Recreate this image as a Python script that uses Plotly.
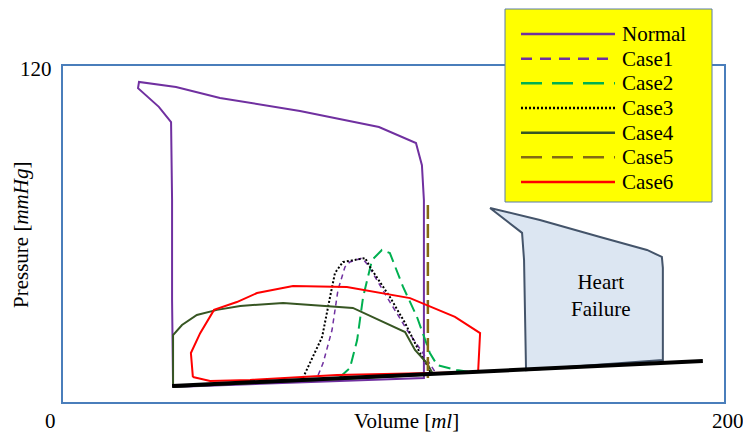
import plotly.graph_objects as go

# ---- data (volume [ml], pressure [mmHg]) ----
normal_v = [33.3, 33.0, 33.0, 32.7, 29.0, 22.7, 23.0, 34.2, 47.5, 71.7, 95.6, 106.8, 108.6, 109.2, 109.2, 71.7, 33.3]
normal_p = [5.7, 36.4, 72.1, 100.0, 105.4, 112.1, 114.3, 112.5, 108.6, 103.9, 98.2, 92.5, 84.6, 72.1, 8.6, 7.1, 5.4]

case1_v = [77.2, 78.7, 81.4, 83.2, 85.3, 86.8, 90.5, 92.3, 98.0, 104.1, 108.9, 112.6, 112.6, 77.2]
case1_p = [9.6, 13.9, 25.7, 40.0, 48.2, 50.0, 51.4, 48.9, 37.5, 25.7, 17.5, 10.7, 10.0, 8.2]

case2_v = [83.8, 86.8, 89.0, 90.8, 93.5, 96.5, 98.9, 102.9, 107.1, 111.0, 113.2, 119.2, 123.1, 83.8]
case2_p = [8.9, 12.1, 22.1, 37.5, 50.7, 54.3, 53.2, 41.1, 30.4, 17.5, 13.2, 11.4, 10.7, 8.2]

case3_v = [72.6, 74.7, 78.4, 80.8, 82.3, 84.7, 91.4, 92.9, 98.9, 103.5, 108.0, 111.0, 111.0, 72.6]
case3_p = [8.6, 13.9, 23.2, 37.5, 46.1, 50.0, 51.4, 48.2, 37.5, 28.2, 17.5, 11.4, 10.0, 7.9]

case4_v = [33.3, 33.3, 36.0, 40.5, 46.6, 53.6, 66.6, 78.7, 87.7, 103.5, 106.5, 110.1, 111.6, 109.5, 33.3]
case4_p = [5.4, 23.9, 27.5, 31.1, 32.9, 34.3, 35.4, 34.3, 33.6, 25.0, 18.6, 13.9, 10.7, 9.6, 5.4]

case5_v = [110.4, 110.4]
case5_p = [70.4, 8.6]

case6_v = [39.3, 38.7, 41.5, 45.7, 52.6, 58.7, 69.6, 85.9, 105.0, 118.6, 126.2, 125.6, 82.9, 56.6, 44.5, 39.3]
case6_p = [8.9, 17.5, 24.6, 32.9, 35.7, 38.9, 41.4, 41.1, 37.1, 30.4, 24.6, 10.7, 9.6, 7.9, 7.5, 8.9]

edpvr_v = [33.0, 193.6]
edpvr_p = [5.7, 14.6]

hf_v = [129.2, 138.9, 139.5, 140.1, 181.5, 181.5, 181.2, 176.7, 162.5, 144.3, 129.2]
hf_p = [69.3, 60.4, 50.7, 11.4, 15.0, 47.9, 51.8, 54.3, 58.9, 65.0, 69.3]

series_names = ["Normal", "Case1", "Case2", "Case3", "Case4", "Case5", "Case6"]
x_tick_labels = ["0", "200"]
y_tick_labels = ["120"]

FONT = "Liberation Serif, Times New Roman, serif"
TXT = dict(family=FONT, size=21, color="#000000")

styles = [
    ("#7030A0", "solid", 2, "solid", 2.5),
    ("#7030A0", "5px,4px", 1.5, "11px,8px", 2.5),
    ("#00B050", "12px,6px", 2, "21px,10px", 2.5),
    ("#000000", "2px,2px", 2, "2px,2px", 2.5),
    ("#375623", "solid", 2, "solid", 2.5),
    ("#846A13", "14px,5px", 2.5, "21px,10px", 2.5),
    ("#FF0000", "solid", 2, "solid", 2.5),
]
series_data = [(normal_v, normal_p), (case1_v, case1_p), (case2_v, case2_p),
               (case3_v, case3_p), (case4_v, case4_p), (case5_v, case5_p),
               (case6_v, case6_p)]

fig = go.Figure()

fig.add_trace(go.Scatter(x=hf_v, y=hf_p, mode="lines", fill="toself",
                         fillcolor="#DCE6F2", line=dict(color="#44546A", width=2),
                         showlegend=False, hoverinfo="skip"))

for name, (xs, ys), (col, dash, w, _, _) in zip(series_names, series_data, styles):
    fig.add_trace(go.Scatter(x=xs, y=ys, mode="lines", name=name, showlegend=False,
                             line=dict(color=col, dash=dash, width=w)))

fig.add_trace(go.Scatter(x=edpvr_v, y=edpvr_p, mode="lines",
                         line=dict(color="#000000", width=4),
                         showlegend=False, hoverinfo="skip"))

# ---- geometry helpers (pixel -> paper) ----
L, R, T, B = 63, 724, 66, 402
def px(xp):
    return (xp - L) / (R - L)
def py(yp):
    return (B - yp) / (B - T)

shapes = []
annotations = []

# legend box
shapes.append(dict(type="rect", xref="paper", yref="paper", layer="above",
                   x0=px(505), x1=px(712), y0=py(202), y1=py(9),
                   fillcolor="#FFFF00", line=dict(color="#5B7DA8", width=1)))
row0, row_gap = 34, 24.67
for i, (name, (col, _, _, ldash, lw)) in enumerate(zip(series_names, styles)):
    yrow = row0 + i * row_gap
    shapes.append(dict(type="line", xref="paper", yref="paper", layer="above",
                       x0=px(521), x1=px(615), y0=py(yrow), y1=py(yrow),
                       line=dict(color=col, width=lw, dash=ldash)))
    annotations.append(dict(x=px(620), y=py(yrow), xref="paper", yref="paper",
                            text=name, xanchor="left", yanchor="middle",
                            showarrow=False, font=TXT))

annotations += [
    dict(x=162.5, y=38.2, xref="x", yref="y", text="Heart<br>Failure",
         xanchor="center", yanchor="middle", showarrow=False, font=TXT),
    dict(x=px(50), y=py(421), xref="paper", yref="paper", text=x_tick_labels[0],
         xanchor="center", yanchor="middle", showarrow=False, font=TXT),
    dict(x=px(728), y=py(421), xref="paper", yref="paper", text=x_tick_labels[1],
         xanchor="center", yanchor="middle", showarrow=False, font=TXT),
    dict(x=px(54), y=py(69), xref="paper", yref="paper", text=y_tick_labels[0],
         xanchor="right", yanchor="middle", showarrow=False, font=TXT),
    dict(x=px(406), y=py(421), xref="paper", yref="paper", text="Volume [<i>ml</i>]",
         xanchor="center", yanchor="middle", showarrow=False, font=TXT),
    dict(x=px(21), y=py(235), xref="paper", yref="paper", text="Pressure [<i>mmHg</i>]",
         xanchor="center", yanchor="middle", textangle=-90, showarrow=False, font=TXT),
]

fig.update_layout(
    width=743, height=432,
    margin=dict(l=L, r=743 - R, t=T, b=432 - B),
    paper_bgcolor="white", plot_bgcolor="white",
    showlegend=False,
    shapes=shapes,
    annotations=annotations,
    xaxis=dict(range=[0, 200], showgrid=False, zeroline=False, showticklabels=False,
               ticks="", showline=True, mirror=True, linecolor="#4A7EBB", linewidth=2),
    yaxis=dict(range=[0, 120], showgrid=False, zeroline=False, showticklabels=False,
               ticks="", showline=True, mirror=True, linecolor="#4A7EBB", linewidth=2),
)

fig.write_html("out.html")
